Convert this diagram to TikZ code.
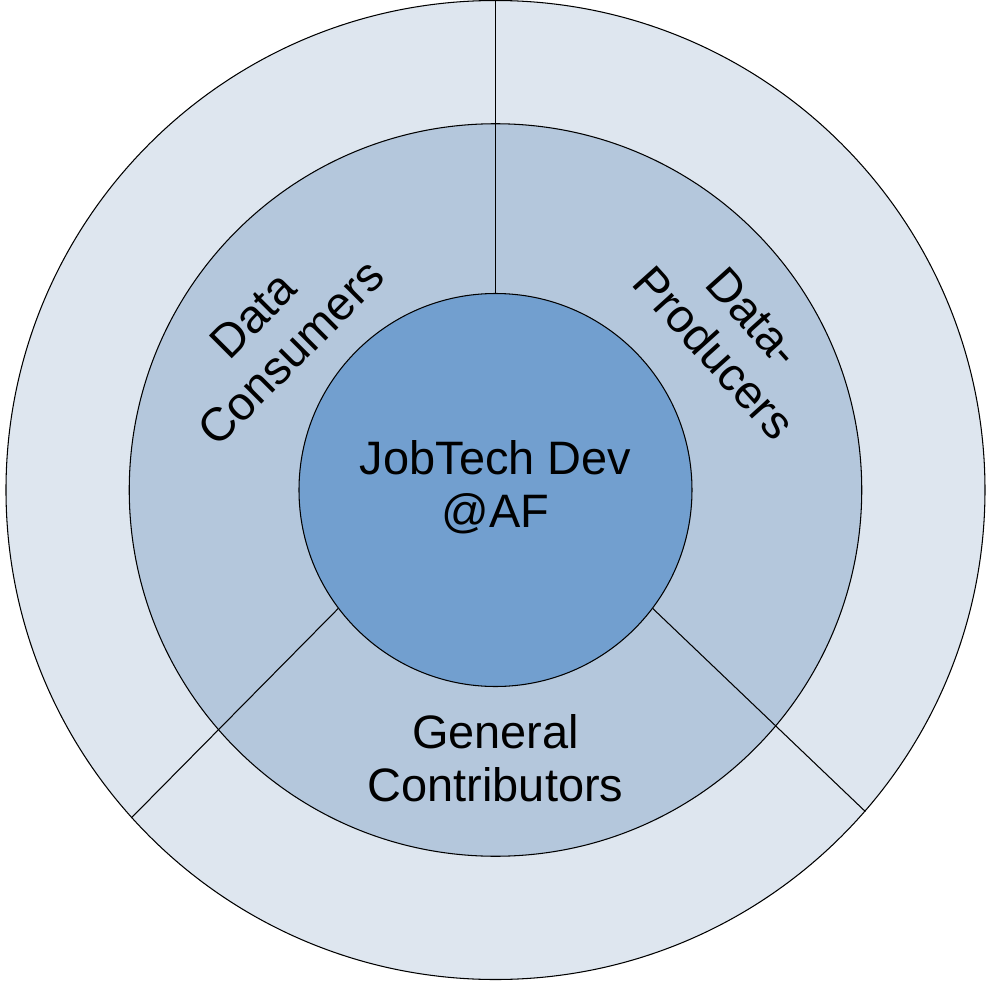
\documentclass[tikz,border=0pt]{standalone}
\usepackage{fontspec}
\setmainfont{Liberation Sans}
\usepackage{tikz}
\usepackage{xcolor}
\definecolor{ringOuter}{HTML}{DEE6EF}
\definecolor{ringMiddle}{HTML}{B4C7DC}
\definecolor{ringCore}{HTML}{729FCF}
\tikzset{
    ring-circle/.style = {draw=black, line width=0.6pt, circle, inner sep=0pt},
    ring-cut/.style = {draw=black, line width=0.6pt},
    ring-label/.style = {align=center, text=black, inner sep=0pt, font=\fontsize{26.7}{30.4}\selectfont},
}

\begin{document}
\begin{tikzpicture}
\useasboundingbox (-9.91,-9.82) rectangle (9.83,9.80);
\node [ring-circle, fill=ringOuter, minimum size=19.58cm] (outer) at (0,0) {};
\node [ring-circle, fill=ringMiddle, minimum size=14.65cm] (middle) at (0,0) {};
\node [ring-circle, fill=ringCore, minimum size=7.86cm] (core) at (0,0) {};
\draw [ring-cut] (core.north) -- (outer.north);
\draw [ring-cut] (core.217.6) -- (outer.222);
\draw [ring-cut] (core.-37.6) -- (outer.-41.7);
\node [ring-label] (jobtech) at (0,0.05) {JobTech Dev\\@AF};
\node [ring-label] (contributors) at (0,-5.36) {General\\Contributors};
\node [ring-label, rotate=45] (consumers) at (-4.47,3.12) {Data\\Consumers};
\node [ring-label, rotate=-48] (producers) at (4.77,3.10) {Data-\\Producers};
\end{tikzpicture}
\end{document}
